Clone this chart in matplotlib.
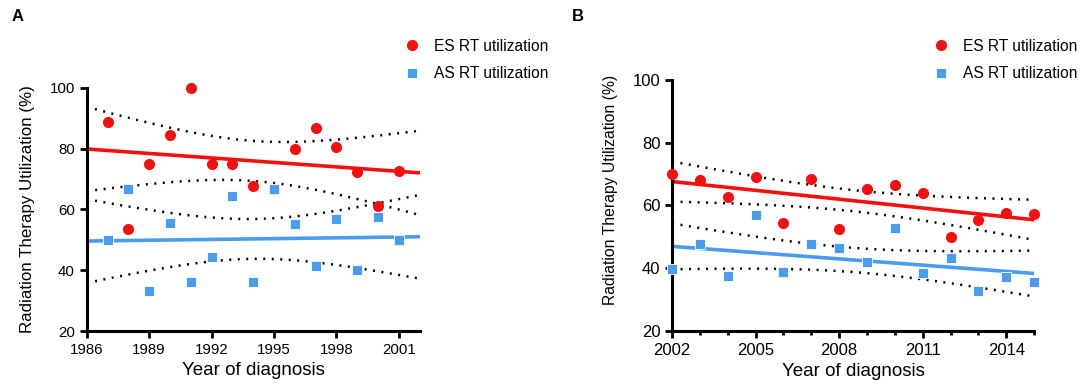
import numpy as np
import matplotlib
matplotlib.use('Agg')
import matplotlib.pyplot as plt
from matplotlib.ticker import MultipleLocator

plt.rcParams['font.family'] = ['Liberation Sans', 'DejaVu Sans']

# Panel A data
years_a = [1987, 1988, 1989, 1990, 1991, 1992, 1993, 1994, 1995, 1996, 1997, 1998, 1999, 2000, 2001]
es_a = [88.9, 53.6, 75.0, 84.6, 100.0, 75.0, 75.0, 67.7, 66.7, 80.0, 86.8, 80.5, 72.2, 61.0, 72.7]
as_a = [50.0, 66.7, 33.3, 55.4, 36.2, 44.4, 64.5, 36.2, 66.7, 55.3, 41.5, 57.0, 40.0, 57.5, 50.0]

# Panel B data
years_b = [2002, 2003, 2004, 2005, 2006, 2007, 2008, 2009, 2010, 2011, 2012, 2013, 2014, 2015]
es_b = [70.1, 68.1, 62.8, 69.1, 54.4, 68.3, 52.5, 65.1, 66.6, 64.0, 50.0, 55.5, 57.5, 57.3]
as_b = [39.8, 47.8, 37.5, 57.1, 38.8, 47.8, 46.4, 41.9, 52.8, 38.4, 43.1, 32.6, 37.3, 35.7]

xticks_a = [1986, 1989, 1992, 1995, 1998, 2001]
xticks_b = [2002, 2005, 2008, 2011, 2014]
yticks = [20, 40, 60, 80, 100]

RED = '#f50f0f'
BLUE = '#4a9cf0'
# two-sided 95% t critical values by degrees of freedom
TCRIT = {12: 2.179, 13: 2.160}


def fit_band(x, y, xs):
    x = np.asarray(x, float)
    y = np.asarray(y, float)
    n = len(x)
    b, a = np.polyfit(x, y, 1)
    resid = y - (a + b * x)
    s = np.sqrt(np.sum(resid ** 2) / (n - 2))
    sxx = np.sum((x - x.mean()) ** 2)
    yhat = a + b * xs
    se = s * np.sqrt(1.0 / n + (xs - x.mean()) ** 2 / sxx)
    t = TCRIT[n - 2]
    return yhat, yhat - t * se, yhat + t * se


def panel(ax, years, es, as_, xlim, xticks, ticksize, ylabsize, ylaby):
    xs = np.linspace(xlim[0], xlim[1], 200)
    for vals, col in [(es, RED), (as_, BLUE)]:
        yhat, lo, hi = fit_band(years, vals, xs)
        ax.plot(xs, yhat, color=col, lw=2.6, zorder=2)
        ax.plot(xs, lo, color='black', lw=1.8, ls=(0, (0.8, 2.6)), zorder=1)
        ax.plot(xs, hi, color='black', lw=1.8, ls=(0, (0.8, 2.6)), zorder=1)
    ax.plot(years, es, 'o', color=RED, ms=8, mec='none', label='ES RT utilization',
            clip_on=False, zorder=3)
    ax.plot(years, as_, 's', color=BLUE, ms=7.5, mec='white', mew=0.6,
            label='AS RT utilization', clip_on=False, zorder=3)
    ax.set_xlim(*xlim)
    ax.set_ylim(20, 100)
    ax.set_xticks(xticks)
    ax.set_yticks(yticks)
    for sp in ['top', 'right']:
        ax.spines[sp].set_visible(False)
    for sp in ['left', 'bottom']:
        ax.spines[sp].set_linewidth(2.2)
    ax.tick_params(width=2, length=5, labelsize=ticksize, direction='out')
    ax.set_xlabel('Year of diagnosis', fontsize=13.5, labelpad=4)
    ax.set_ylabel('Radiation Therapy Utilization (%)', fontsize=ylabsize)
    ax.yaxis.set_label_coords(-0.155 if ticksize < 11 else -0.15, ylaby)


fig = plt.figure(figsize=(10.84, 3.84), dpi=100)
ax1 = fig.add_axes([0.080, 0.138, 0.307, 0.633])
ax2 = fig.add_axes([0.620, 0.138, 0.334, 0.654])

panel(ax1, years_a, es_a, as_a, (1986, 2002), xticks_a, 10.8, 12.2, 0.5)
panel(ax2, years_b, es_b, as_b, (2002, 2015), xticks_b, 12.0, 11.3, 0.56)

# yearly minor ticks on panel B
ax2.xaxis.set_minor_locator(MultipleLocator(1))
ax2.tick_params(axis='x', which='minor', width=2, length=3)

for ax, x0 in [(ax1, 0.367), (ax2, 0.855)]:
    ax.legend(loc='upper left', bbox_to_anchor=(x0, 0.915), bbox_transform=fig.transFigure,
              frameon=False, fontsize=11.2, handlelength=1.0, handletextpad=0.9,
              labelspacing=0.8, borderaxespad=0)

fig.text(0.011, 0.945, 'A', fontsize=12, fontweight='bold')
fig.text(0.528, 0.945, 'B', fontsize=12, fontweight='bold')

fig.savefig('out.png', dpi=100)
